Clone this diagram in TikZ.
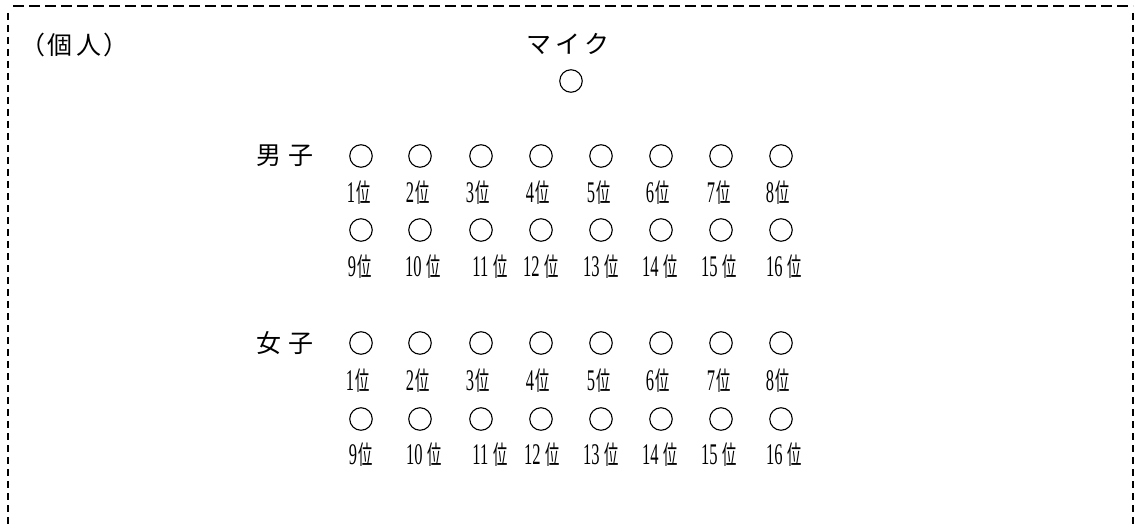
\documentclass[tikz,border=0pt]{standalone}
\usepackage{fontspec}
\setmainfont{Liberation Serif}
\newfontfamily\jp{Noto Sans CJK JP}
\newcommand{\jpbig}{\jp\fontsize{25}{25}\selectfont}
\newcommand{\rank}[1]{\scalebox{0.55}[1]{\fontsize{30}{30}\selectfont #1\kern3pt{\jp\fontsize{26}{26}\selectfont 位}}}
\newcommand{\rankw}[1]{\scalebox{0.55}[1]{\fontsize{30}{30}\selectfont #1\kern9pt{\jp\fontsize{26}{26}\selectfont 位}}}
\tikzset{
  seat/.style={circle, draw, minimum size=22.5pt, inner sep=0pt, line width=1.1pt},
  lbl/.style={inner sep=0pt, anchor=center},
  ttl/.style={inner sep=0pt, anchor=center, font=\jpbig},
}
\begin{document}
\begin{tikzpicture}[x=1pt,y=-1pt]
\useasboundingbox (0,0) rectangle (1135,524);
% border
\draw[line width=2.6pt, dash pattern=on 10.5pt off 5.5pt] (13,6) -- (1133,6);
\draw[line width=2.6pt, dash pattern=on 7.3pt off 4.7pt] (8,13) -- (8,524);
\draw[line width=2.6pt, dash pattern=on 7.3pt off 4.7pt] (1133,13) -- (1133,524);
% titles
\node[ttl] (kojin) at (74,45) {（\kern2pt 個\kern4pt 人\kern2pt ）};
\node[ttl] (mike) at (568,44) {マ\kern4pt イ\kern4pt ク};
\node[seat] (mic) at (571,81) {};
\node[ttl] (boys) at (285,156) {男\kern7pt 子};
\node[ttl] (girls) at (285,343) {女\kern7pt 子};
% boys
\foreach \i/\x in {1/361,2/420,3/481,4/541,5/601,6/661,7/721,8/781}{
  \node[seat] (b\i) at (\x,156) {};
}
\foreach \i/\x in {9/361,10/420,11/481,12/541,13/601,14/661,15/721,16/781}{
  \node[seat] (b\i) at (\x,230) {};
}
\foreach \i/\x in {1/359,2/418,3/478,4/538,5/599,6/658,7/719,8/778}{
  \node[lbl] (bl\i) at (\x,193) {\rank{\i}};
}
\node[lbl] (bl9) at (360,267) {\rank{9}};
\foreach \i/\x in {10/423,11/490,12/541,13/601,14/660,15/719,16/784}{
  \node[lbl] (bl\i) at (\x,267) {\rankw{\i}};
}
% girls
\foreach \i/\x in {1/361,2/420,3/481,4/541,5/601,6/661,7/721,8/781}{
  \node[seat] (g\i) at (\x,343) {};
}
\foreach \i/\x in {9/361,10/420,11/481,12/541,13/601,14/661,15/721,16/781}{
  \node[seat] (g\i) at (\x,419) {};
}
\foreach \i/\x in {1/358,2/418,3/478,4/538,5/599,6/658,7/719,8/778}{
  \node[lbl] (gl\i) at (\x,381) {\rank{\i}};
}
\node[lbl] (gl9) at (361,455) {\rank{9}};
\foreach \i/\x in {10/424,11/490,12/542,13/601,14/660,15/719,16/784}{
  \node[lbl] (gl\i) at (\x,455) {\rankw{\i}};
}
\end{tikzpicture}
\end{document}
